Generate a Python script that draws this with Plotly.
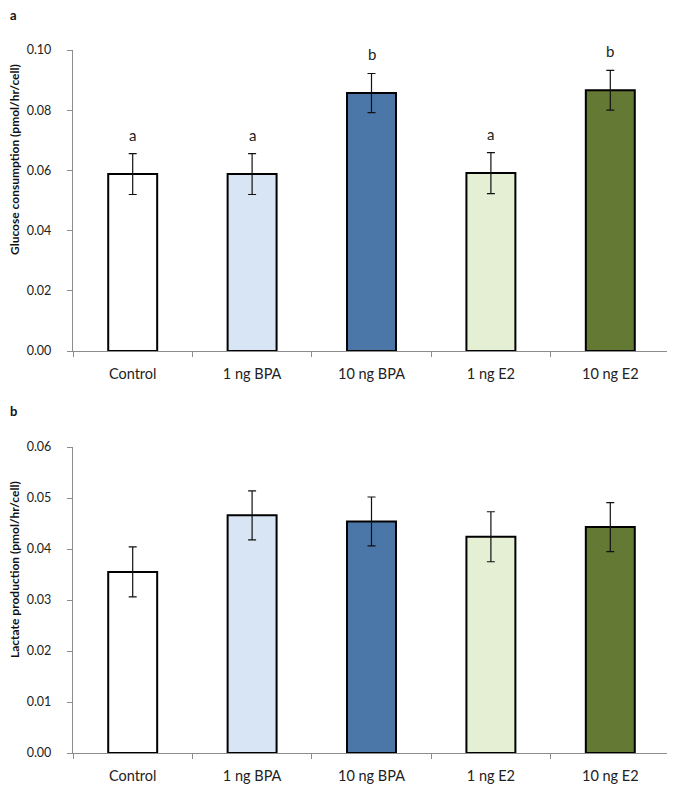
import plotly.graph_objects as go
from plotly.subplots import make_subplots

categories = ["Control", "1 ng BPA", "10 ng BPA", "1 ng E2", "10 ng E2"]
glucose = [0.0588, 0.0588, 0.0857, 0.0591, 0.0866]
glucose_err = [0.0068, 0.0068, 0.0065, 0.0068, 0.0066]
glucose_letters = ["a", "a", "b", "a", "b"]
lactate = [0.0355, 0.0466, 0.0454, 0.0424, 0.0443]
lactate_err = [0.0049, 0.0048, 0.0048, 0.0049, 0.0048]
colors = ["#FFFFFF", "#D8E5F5", "#4A77A8", "#E5EFD4", "#637934"]

FONT = "Lato, Carlito, 'Liberation Sans', sans-serif"

# layout geometry (page px, body has 8px margin)
ML, MT, MR, MB = 65, 42, 13, 45
W, H = 675, 790
PW, PH = W - ML - MR, H - MT - MB


def px_x(px):
    return (px - ML) / PW


def px_y(py):
    return 1 - (py - MT) / PH


fig = make_subplots(rows=2, cols=1)

for r, vals, errs in [(1, glucose, glucose_err), (2, lactate, lactate_err)]:
    fig.add_trace(go.Bar(
        x=categories, y=vals,
        marker=dict(color=colors, line=dict(color="#000000", width=2)),
        width=0.41,
        error_y=dict(type="data", array=errs, visible=True, color="#111111",
                     thickness=1.2, width=4),
        showlegend=False,
    ), row=r, col=1)

for c, v, e, t in zip(categories, glucose, glucose_err, glucose_letters):
    fig.add_annotation(x=c, y=v + e, text=t, showarrow=False, yshift=19,
                       font=dict(size=15, color="#222222", family=FONT),
                       xref="x", yref="y")

axis_common = dict(showline=True, linecolor="#8C8C8C", linewidth=1.3,
                   ticks="outside", tickcolor="#8C8C8C", ticklen=5,
                   showgrid=False, zeroline=False)

fig.update_xaxes(**axis_common, tickson="boundaries", type="category",
                 domain=[0, 1], ticklabelstandoff=9,
                 tickfont=dict(size=14.5, color="#222222", family=FONT))
fig.update_yaxes(**axis_common, ticklabelstandoff=13, tickformat=".2f",
                 tickfont=dict(size=12.5, color="#222222", family=FONT))

fig.update_yaxes(range=[0, 0.10], dtick=0.02,
                 domain=[1 - 301 / PH, 1], row=1, col=1)
fig.update_yaxes(range=[0, 0.06], dtick=0.01,
                 domain=[0, 306 / PH], row=2, col=1)

title_font = dict(size=12, color="#111111", family=FONT)
fig.add_annotation(text="<b>Glucose consumption (pmol/hr/cell)</b>",
                   xref="paper", yref="paper", x=px_x(6), y=px_y(152),
                   textangle=-90, showarrow=False, font=title_font,
                   xanchor="center", yanchor="middle")
fig.add_annotation(text="<b>Lactate production (pmol/hr/cell)</b>",
                   xref="paper", yref="paper", x=px_x(6), y=px_y(562),
                   textangle=-90, showarrow=False, font=title_font,
                   xanchor="center", yanchor="middle")

panel_font = dict(size=13, color="#111111", family=FONT)
fig.add_annotation(text="<b>a</b>", xref="paper", yref="paper",
                   x=px_x(0), y=px_y(7), xanchor="left", yanchor="middle",
                   showarrow=False, font=panel_font)
fig.add_annotation(text="<b>b</b>", xref="paper", yref="paper",
                   x=px_x(0), y=px_y(403), xanchor="left", yanchor="middle",
                   showarrow=False, font=panel_font)

fig.update_layout(
    width=W, height=H,
    margin=dict(l=ML, r=MR, t=MT, b=MB),
    paper_bgcolor="white", plot_bgcolor="white",
    bargap=0.59,
    font=dict(family=FONT),
)

fig.write_html("out.html")
